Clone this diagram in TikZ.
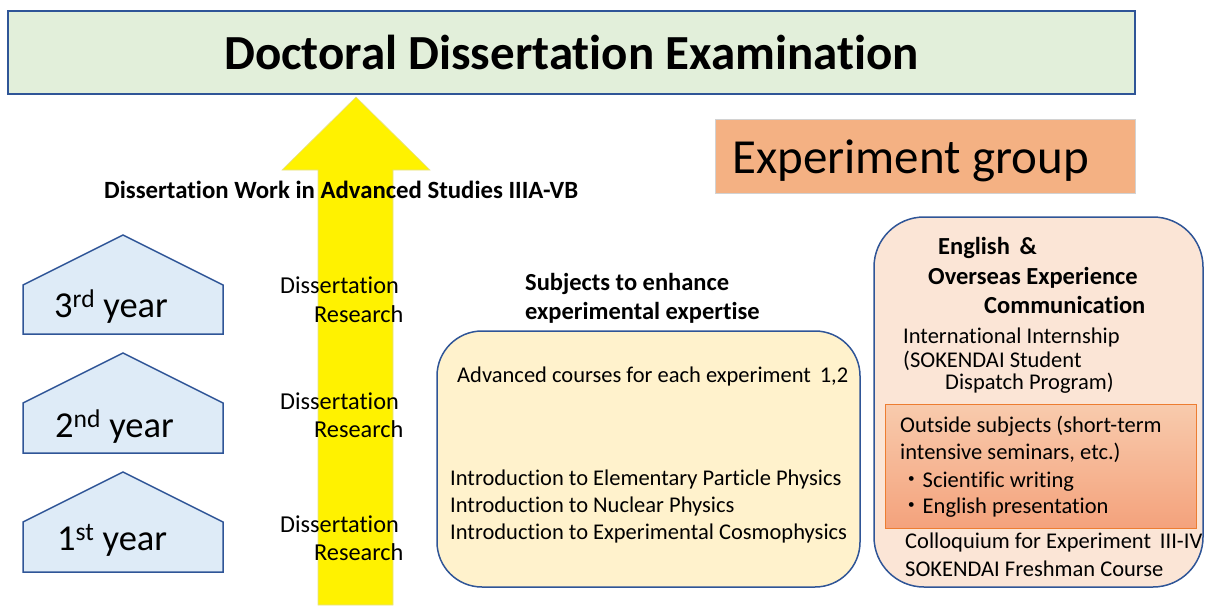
\documentclass[tikz,border=0pt]{standalone}
\usepackage{fontspec}
\setmainfont[Ligatures=CommonOff]{Carlito}
\newfontfamily\jpfont{Noto Sans CJK JP}
\newcommand\myfs[1]{\fontsize{#1}{#1}\selectfont}
\definecolor{blueline}{HTML}{2F5597}
\definecolor{titlegreen}{HTML}{E2EFDA}
\definecolor{yearblue}{HTML}{DEEBF7}
\definecolor{expfill}{HTML}{F4B183}
\definecolor{subjfill}{HTML}{FFF2CC}
\definecolor{engfill}{HTML}{FBE5D6}
\definecolor{outtop}{HTML}{F8CBAD}
\definecolor{outbot}{HTML}{F4A27C}
\definecolor{outline}{HTML}{ED7D31}
\tikzset{
  txt/.style={anchor=base west, inner sep=0pt, font=\myfs{22.5}},
  drtxt/.style={anchor=base west, inner sep=0pt, font=\myfs{24.3}},
  hdtxt/.style={anchor=base west, inner sep=0pt, font=\myfs{24.5}\bfseries},
  yeartxt/.style={anchor=base west, inner sep=0pt, font=\myfs{36.5}},
  yearshape/.style={draw=blueline, fill=yearblue, line width=1.5pt, line join=miter},
  roundbox/.style={draw=blueline, line width=1.5pt, rounded corners=45pt},
}
\begin{document}
\begin{tikzpicture}[x=1pt,y=-1pt]
\useasboundingbox (0,0) rectangle (1206,605);
% title
\node[draw=blueline, line width=2pt, fill=titlegreen, minimum width=1127pt, minimum height=83pt, inner sep=0pt] (title) at (571.5,52.5) {};
\node[anchor=base, inner sep=0pt, font=\myfs{49}\bfseries] (titletxt) at (571.5,69) {Doctoral Dissertation Examination};
% arrow
\draw[draw=yellow!60!gray!60, line width=0.6pt, fill=yellow] (318,605) -- (318,170) -- (282,170) -- (356,97) -- (430,170) -- (393,170) -- (393,605) -- cycle;
\node[hdtxt, font=\myfs{24.8}\bfseries] (work) at (104,198) {Dissertation Work in Advanced Studies IIIA-VB};
% experiment group
\node[draw=gray!35, line width=0.6pt, fill=expfill, minimum width=420pt, minimum height=74pt, inner sep=0pt] (expbox) at (925,156) {};
\node[anchor=base west, inner sep=0pt, font=\myfs{49}] (exptxt) at (732,173) {Experiment group};
% years
\draw[yearshape] (23,334) -- (23,285) -- (123,235) -- (223,285) -- (223,334) -- cycle;
\draw[yearshape] (23,453) -- (23,403) -- (123,353) -- (223,403) -- (223,453) -- cycle;
\draw[yearshape] (23,572) -- (23,522) -- (123,472) -- (223,522) -- (223,572) -- cycle;
\node[yeartxt] (y3) at (54,317) {3\textsuperscript{rd} year};
\node[yeartxt] (y2) at (55,437) {2\textsuperscript{nd} year};
\node[yeartxt] (y1) at (57,550) {1\textsuperscript{st} year};
% dissertation research
\node[drtxt] (d3a) at (280,293) {Dissertation};
\node[drtxt] (d3b) at (314,322) {Research};
\node[drtxt] (d2a) at (280,409) {Dissertation};
\node[drtxt] (d2b) at (314,437) {Research};
\node[drtxt] (d1a) at (280,532) {Dissertation};
\node[drtxt] (d1b) at (314,560) {Research};
% subjects
\node[hdtxt] (subjA) at (525,290) {Subjects to enhance};
\node[hdtxt] (subjB) at (525,319) {experimental expertise};
\draw[roundbox, fill=subjfill] (437,331) rectangle (860,587);
\node[txt] (adv) at (457,382) {Advanced courses for each experiment\, 1,2};
\node[txt] (intro1) at (450,485) {Introduction to Elementary Particle Physics};
\node[txt] (intro2) at (450,512) {Introduction to Nuclear Physics};
\node[txt] (intro3) at (450,539) {Introduction to Experimental Cosmophysics};
% english box
\draw[roundbox, fill=engfill, rounded corners=50pt] (874,217) rectangle (1203,587);
\node[hdtxt] (engA) at (938,254) {English \,\&};
\node[hdtxt] (engB) at (928,284) {Overseas Experience};
\node[hdtxt] (engC) at (984,313) {Communication};
\node[txt] (intl1) at (903,343) {International Internship};
\node[txt] (intl2) at (903,367) {(SOKENDAI Student};
\node[txt] (intl3) at (945,389) {Dispatch Program)};
\draw[draw=outline, line width=0.8pt, top color=outtop, bottom color=outbot] (885,404) rectangle (1196,528);
\node[txt] (out1) at (900,432) {Outside subjects (short-term};
\node[txt] (out2) at (900,459) {intensive seminars, etc.)};
\node[txt] (out3) at (900,487) {{\jpfont ・}Scientific writing};
\node[txt] (out4) at (900,513) {{\jpfont ・}English presentation};
\node[txt] (coll) at (905,548) {Colloquium for Experiment\, III-IV};
\node[txt] (fresh) at (905,576) {SOKENDAI Freshman Course};
\end{tikzpicture}
\end{document}
